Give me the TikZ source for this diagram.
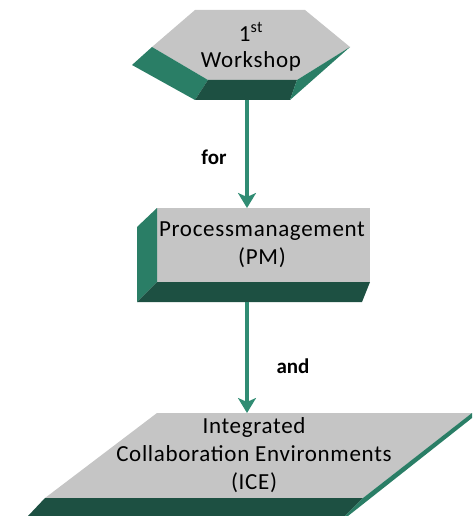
\documentclass[tikz,border=0pt]{standalone}
\usepackage{fontspec}
\setmainfont{Carlito}
\definecolor{facegrey}{RGB}{197,197,197}
\definecolor{teallight}{RGB}{42,126,102}
\definecolor{tealdark}{RGB}{29,80,66}
\definecolor{arrowteal}{RGB}{48,140,115}
\usetikzlibrary{arrows.meta}
\tikzset{
  topface/.style={fill=facegrey, draw=none},
  sideface/.style={fill=teallight, draw=none},
  bottomface/.style={fill=tealdark, draw=none},
  label/.style={font=\fontsize{23}{28}\selectfont\addfontfeature{LetterSpace=3}, text=black, align=center, inner sep=0pt},
  conn/.style={draw=arrowteal, line width=4pt, -{Stealth[length=15pt,width=18pt,inset=4pt]}},
  connlabel/.style={font=\bfseries\fontsize{21}{24}\selectfont, text=black, inner sep=0pt}
}
\begin{document}
\begin{tikzpicture}[x=1pt,y=-1pt]
\useasboundingbox (0,0) rectangle (472,516);
% ---- hexagon (1st Workshop)
\fill[topface] (195,10) -- (305,10) -- (350,47) -- (297,80) -- (208,80) -- (152,47) -- cycle;
\fill[sideface] (152,47) -- (208,80) -- (195,100) -- (132,65) -- cycle;
\fill[bottomface] (208,80) -- (297,80) -- (290,100) -- (195,100) -- cycle;
\fill[sideface] (350,47) -- (297,80) -- (290,100) -- cycle;
\node[label] (ws) at (251,47) {1\textsuperscript{st}\\[-2pt]Workshop};
\coordinate (wsbot) at (247,100);
% ---- box (Processmanagement)
\fill[topface] (157,208) rectangle (370,282);
\fill[sideface] (137,227) -- (157,208) -- (157,282) -- (137,302) -- cycle;
\fill[bottomface] (157,282) -- (370,282) -- (362,302) -- (137,302) -- cycle;
\node[label] (pm) at (262,245) {Processmanagement\\(PM)};
\coordinate (pmtop) at (247,208);
\coordinate (pmbot) at (247,302);
% ---- parallelogram (ICE)
\fill[topface] (157,413) -- (472,413) -- (363,498) -- (45,498) -- cycle;
\fill[bottomface] (45,498) -- (363,498) -- (345,516) -- (28,516) -- cycle;
\fill[sideface] (472,413) -- (472,418) -- (348,516) -- (345,516) -- (363,498) -- cycle;
\node[label] (ice) at (254,455) {Integrated\\Collaboration Environments\\(ICE)};
\coordinate (icetop) at (247,413);
% ---- connectors
\draw[conn] (wsbot) -- (pmtop);
\draw[conn] (pmbot) -- (icetop);
\node[connlabel] (for) at (214,157) {for};
\node[connlabel] (and) at (293,366) {and};
\end{tikzpicture}
\end{document}
